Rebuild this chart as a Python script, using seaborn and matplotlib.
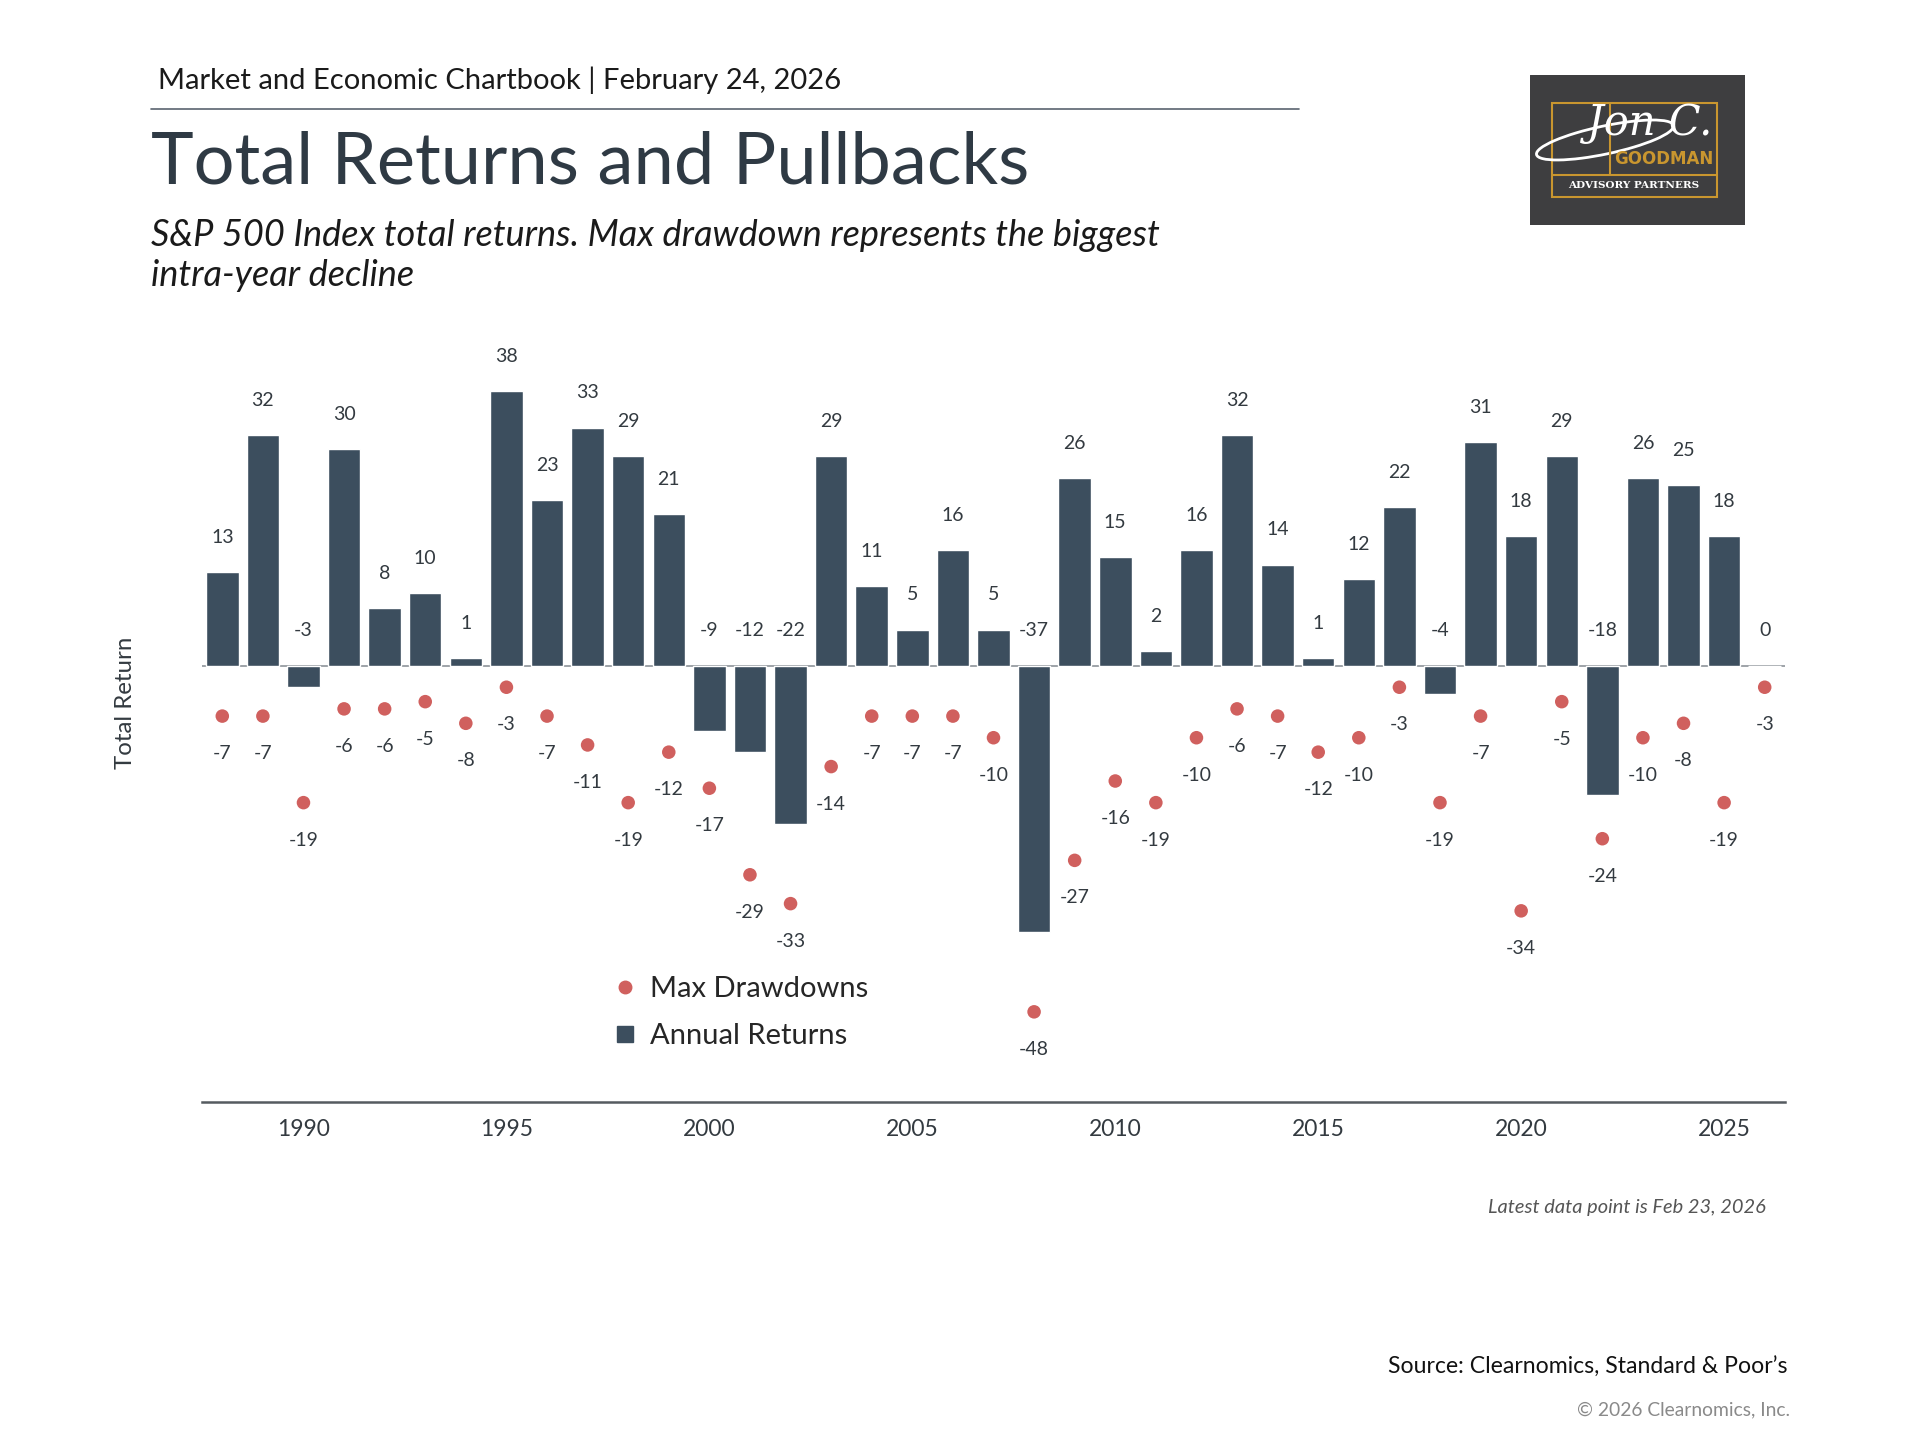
import numpy as np
import pandas as pd
import matplotlib.pyplot as plt
import seaborn as sns
from matplotlib.lines import Line2D
from matplotlib.patches import Rectangle, Arc

# S&P 500 total returns and max intra-year drawdowns (%)
years = list(range(1988, 2027))
annual_returns = [13, 32, -3, 30, 8, 10, 1, 38, 23, 33,
                  29, 21, -9, -12, -22, 29, 11, 5, 16, 5,
                  -37, 26, 15, 2, 16, 32, 14, 1, 12, 22,
                  -4, 31, 18, 29, -18, 26, 25, 18, 0]
max_drawdowns = [-7, -7, -19, -6, -6, -5, -8, -3, -7, -11,
                 -19, -12, -17, -29, -33, -14, -7, -7, -7, -10,
                 -48, -27, -16, -19, -10, -6, -7, -12, -10, -3,
                 -19, -7, -34, -5, -24, -10, -8, -19, -3]
tick_years = [1990, 1995, 2000, 2005, 2010, 2015, 2020, 2025]

BAR = '#3c4e5e'
DOT = '#d0605e'
TXT = '#333a40'
GOLD = '#c9962f'

W, H = 1920, 1440


def fx(x):
    return x / W


def fy(y):
    return 1 - y / H


sns.set_style('white')
plt.rcParams['font.family'] = ['Lato', 'DejaVu Sans']

df = pd.DataFrame({'year': years, 'ret': annual_returns, 'dd': max_drawdowns})

fig = plt.figure(figsize=(19.2, 14.4), dpi=100)
ax = fig.add_axes([fx(202), fy(1102), fx(1785) - fx(202), fy(341) - fy(1102)])

sns.barplot(data=df, x='year', y='ret', native_scale=True, color=BAR,
            saturation=1, width=0.8, ax=ax, zorder=2)
sns.scatterplot(data=df, x='year', y='dd', color=DOT, s=95,
                edgecolor='none', ax=ax, zorder=3)

ax.axhline(0, color='#8d9399', lw=1.2, zorder=1)

for yr, v in zip(years, annual_returns):
    ax.text(yr, max(v, 0) + 4.8, str(v), ha='center', va='center',
            fontsize=14, color=TXT)
for yr, d in zip(years, max_drawdowns):
    ax.text(yr, d - 5.2, str(d), ha='center', va='center',
            fontsize=14, color=TXT)

ax.set_xlim(1987.5, 2026.5)
ax.set_ylim(-60.5, 45)
ax.set_xticks(tick_years)
ax.set_xticklabels([str(t) for t in tick_years], fontsize=16.5, color=TXT)
ax.set_yticks([])
ax.set_xlabel('')
ax.set_ylabel('')
ax.tick_params(axis='x', length=0, pad=12)
for s in ['top', 'right', 'left']:
    ax.spines[s].set_visible(False)
ax.spines['bottom'].set_color('#555b60')
ax.spines['bottom'].set_linewidth(1.8)

handles = [
    Line2D([], [], marker='o', linestyle='none', color=DOT, markersize=9),
    Line2D([], [], marker='s', linestyle='none', color=BAR, markersize=11),
]
ax.legend(handles, ['Max Drawdowns', 'Annual Returns'], loc='upper left',
          bbox_to_anchor=(fx(615), fy(976)), bbox_transform=fig.transFigure,
          frameon=False, fontsize=21, handlelength=0.7, handletextpad=0.5,
          labelspacing=0.72, borderpad=0, borderaxespad=0)

fig.text(fx(126), fy(703), 'Total Return', rotation=90, ha='center',
         va='center', fontsize=17.3, color=TXT)

# header
fig.text(fx(158), fy(80), 'Market and Economic Chartbook | February 24, 2026',
         va='center', fontsize=21, color='#1a1a1a')
fig.add_artist(Line2D([fx(151), fx(1299)], [fy(109), fy(109)],
                      color='#5a6470', lw=1.2))
fig.text(fx(151), fy(163), 'Total Returns and Pullbacks', va='center',
         fontsize=52, color='#2f3a44')
fig.text(fx(151), fy(235), 'S&P 500 Index total returns. Max drawdown represents the biggest',
         va='center', fontsize=26, style='italic', color='#1a1a1a')
fig.text(fx(151), fy(275), 'intra-year decline', va='center', fontsize=26,
         style='italic', color='#1a1a1a')

# footer
fig.text(fx(1766), fy(1207), 'Latest data point is Feb 23, 2026', ha='right',
         va='center', fontsize=14.4, style='italic', color='#555')
fig.text(fx(1787), fy(1367), 'Source: Clearnomics, Standard & Poor\u2019s',
         ha='right', va='center', fontsize=16.6, color='#111')
fig.text(fx(1790), fy(1410), '\u00a9 2026 Clearnomics, Inc.', ha='right',
         va='center', fontsize=13.9, color='#8a8a8a')

# logo
lax = fig.add_axes([fx(1530), fy(225), fx(1745) - fx(1530), fy(75) - fy(225)])
lax.set_xlim(0, 215)
lax.set_ylim(150, 0)
lax.axis('off')
lax.add_patch(Rectangle((0, 0), 215, 150, color='#3e3e40'))
lax.add_patch(Rectangle((22, 28), 165, 94, fill=False, edgecolor=GOLD, lw=1.5))
lax.plot([80, 80], [28, 100], color=GOLD, lw=1.5)
lax.plot([22, 187], [100, 100], color=GOLD, lw=1.5)
lax.text(134, 84, 'GOODMAN', color=GOLD, fontsize=12, fontweight='bold',
         ha='center', va='center', family='DejaVu Sans')
lax.text(104, 111, 'ADVISORY PARTNERS', color='white', fontsize=7.5,
         fontweight='bold', ha='center', va='center', family='DejaVu Serif')
lax.text(120, 48, 'Jon C.', color='white', fontsize=30, style='italic',
         ha='center', va='center', family='DejaVu Serif')
lax.add_patch(Arc((75, 65), 140, 28, angle=-12, color='white', lw=2))

fig.savefig('out.png', dpi=100, facecolor='white')
